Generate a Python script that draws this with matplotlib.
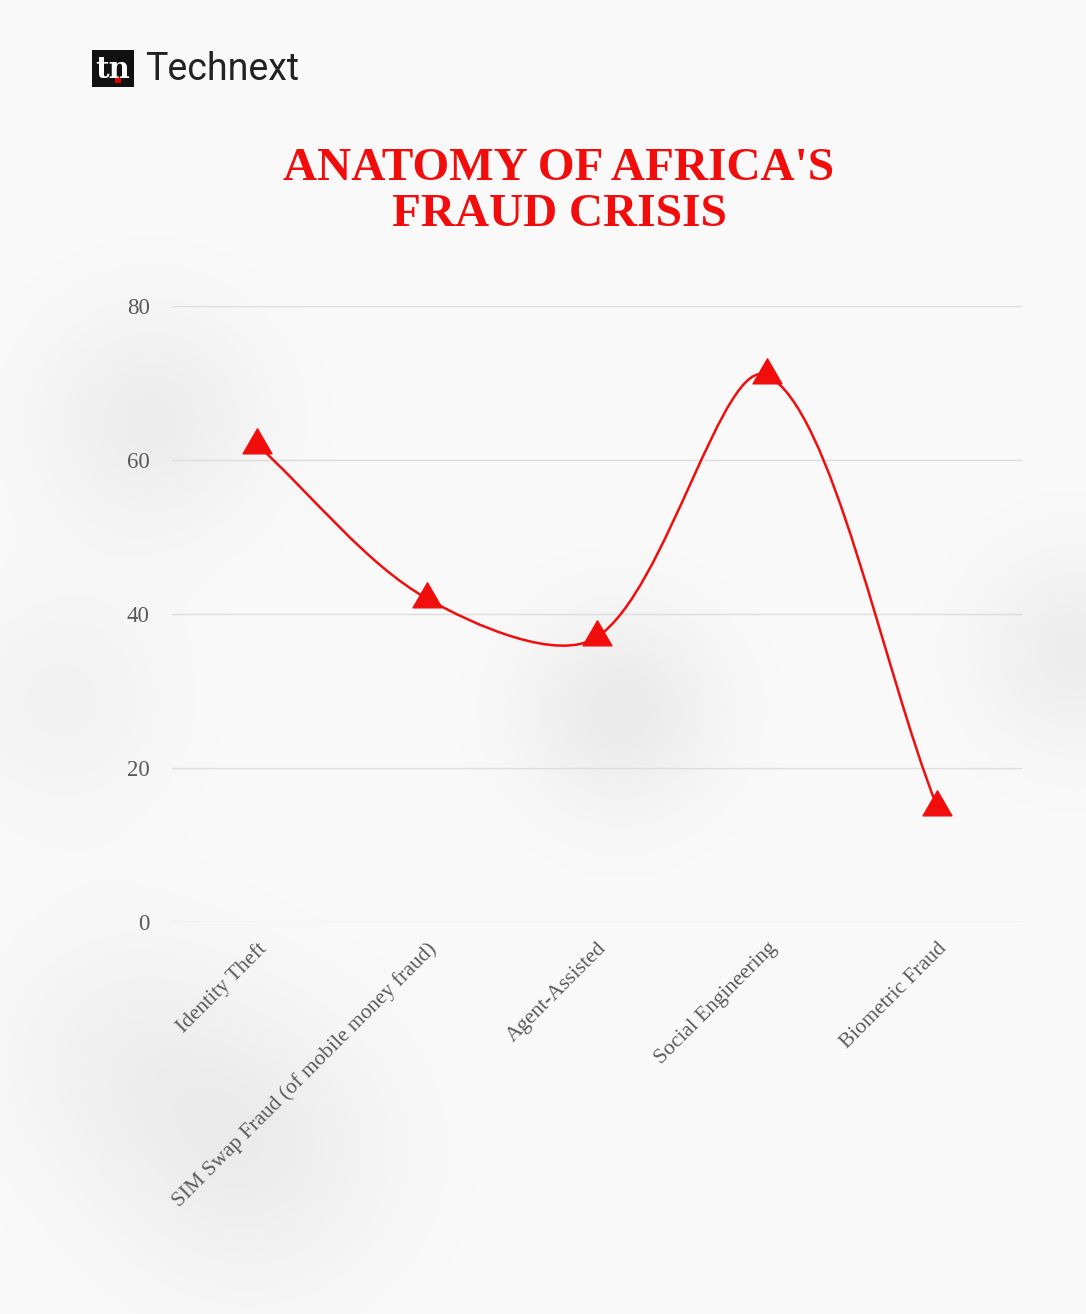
import numpy as np
import matplotlib.pyplot as plt
from matplotlib.path import Path
from matplotlib.patches import PathPatch, Rectangle

# data
categories = ['Identity Theft', 'SIM Swap Fraud (of mobile money fraud)',
              'Agent-Assisted', 'Social Engineering', 'Biometric Fraud']
values = [62, 42, 37, 71, 15]
yticks = [0, 20, 40, 60, 80]

red = '#f20d0d'
W, H = 1086, 1314

fig = plt.figure(figsize=(W / 100, H / 100), dpi=100)
fig.patch.set_facecolor('#f8f8f8')

# soft grey blotches in the background (paper texture look)
bg = fig.add_axes([0, 0, 1, 1], zorder=-10)
gx, gy = np.meshgrid(np.arange(0, W, 2), np.arange(0, H, 2))
shade = np.full(gx.shape, 0.02)
for cx, cy, r, a in [(150, 420, 80, 0.05), (620, 710, 70, 0.06), (250, 1150, 100, 0.05),
                     (1075, 650, 70, 0.05), (120, 1050, 90, 0.03), (60, 700, 80, 0.03)]:
    shade += a * np.exp(-((gx - cx) ** 2 + (gy - cy) ** 2) / (2 * r ** 2))
rgb = np.repeat((1 - shade)[:, :, None], 3, axis=2)
bg.imshow(rgb, extent=(0, W, H, 0), aspect='auto', interpolation='bilinear')
bg.axis('off')

ax = fig.add_axes([172 / W, 1 - 922 / H, 850 / W, 616 / H])
ax.set_facecolor('none')
ax.set_xlim(-0.5, len(categories) - 0.5)
ax.set_ylim(0, 80)

# smooth curve like chart.js (distance weighted tension, pixel space)
x = np.arange(len(values), dtype=float)
y = np.array(values, dtype=float)
sx, sy = 170.0, 616.0 / 80
t = 0.32
cp_in, cp_out = [], []
for i in range(len(x)):
    p = np.array([x[i], y[i]])
    pr = np.array([x[i - 1], y[i - 1]]) if i > 0 else p
    nx_ = np.array([x[i + 1], y[i + 1]]) if i + 1 < len(x) else p
    d01 = np.hypot((p[0] - pr[0]) * sx, (p[1] - pr[1]) * sy)
    d12 = np.hypot((nx_[0] - p[0]) * sx, (nx_[1] - p[1]) * sy)
    s01 = d01 / (d01 + d12)
    s12 = d12 / (d01 + d12)
    cp_in.append(p - t * s01 * (nx_ - pr))
    cp_out.append(p + t * s12 * (nx_ - pr))
verts = [(x[0], y[0])]
codes = [Path.MOVETO]
for i in range(len(x) - 1):
    verts += [tuple(cp_out[i]), tuple(cp_in[i + 1]), (x[i + 1], y[i + 1])]
    codes += [Path.CURVE4] * 3
ax.add_patch(PathPatch(Path(verts, codes), facecolor='none', edgecolor=red,
                       lw=1.8, zorder=3))

# equilateral triangle centred on its circumcentre
tri = Path([(0, 1), (-0.866, -0.5), (0.866, -0.5), (0, 1)],
           [Path.MOVETO, Path.LINETO, Path.LINETO, Path.CLOSEPOLY])
ax.plot(x, y, ls='none', marker=tri, ms=24, color=red, mec=red, zorder=4)

ax.set_yticks(yticks)
ax.set_xticks(x)
ax.set_xticklabels(categories, rotation=45, ha='right', rotation_mode='anchor',
                   fontsize=15.5, family='Liberation Serif', color='#5a5a5a')
for lab in ax.get_yticklabels():
    lab.set_fontsize(16.5)
    lab.set_family('Liberation Serif')
    lab.set_color('#5a5a5a')
ax.tick_params(axis='both', length=0)
ax.tick_params(axis='y', pad=16)
ax.tick_params(axis='x', pad=12)
ax.grid(axis='y', color='#dcdcdc', lw=1)
ax.set_axisbelow(True)
for s in ax.spines.values():
    s.set_visible(False)

# title
fig.text(559 / W, 1 - 192 / H, "ANATOMY OF AFRICA'S\nFRAUD CRISIS", ha='center',
         va='center', fontsize=34, fontweight='bold', family='Liberation Serif',
         color=red, linespacing=1.15)

# logo
fig.patches.append(Rectangle((92 / W, 1 - 87 / H), 42 / W, 37 / H,
                             transform=fig.transFigure, facecolor='#111111'))
fig.text(113 / W, 1 - 70 / H, 'tn', ha='center', va='center', fontsize=21,
         fontweight='bold', color='white', family='DejaVu Serif')
fig.patches.append(Rectangle((115 / W, 1 - 83 / H), 6 / W, 6 / H,
                             transform=fig.transFigure, facecolor='#e00000'))
fig.text(145 / W, 1 - 70 / H, 'Technext', ha='left', va='center', fontsize=27,
         color='#222222', family='Roboto')

fig.savefig('out.png', dpi=100, facecolor=fig.get_facecolor())
